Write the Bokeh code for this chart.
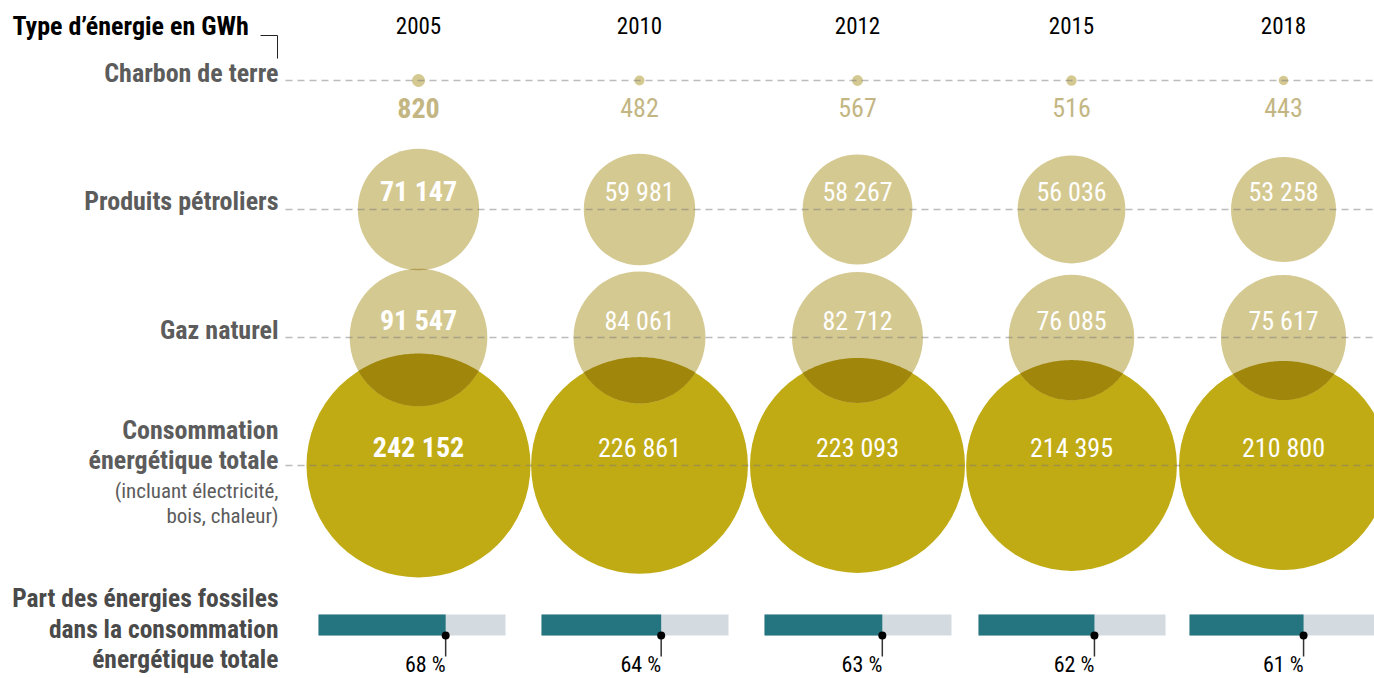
import numpy as np
from bokeh.plotting import figure
from bokeh.models import Range1d
from bokeh.core.properties import value
from bokeh.embed import file_html
from bokeh.resources import INLINE

# ---------------- data ----------------
years = ["2005", "2010", "2012", "2015", "2018"]
charbon = [820, 482, 567, 516, 443]
petrole = [71147, 59981, 58267, 56036, 53258]
gaz = [91547, 84061, 82712, 76085, 75617]
total = [242152, 226861, 223093, 214395, 210800]
part_fossile = [68, 64, 63, 62, 61]

row_labels = ["Charbon de terre", "Produits pétroliers", "Gaz naturel"]
title = "Type d’énergie en GWh"
total_label = ["Consommation", "énergétique totale"]
total_sub = ["(incluant électricité,", "bois, chaleur)"]
part_label = ["Part des énergies fossiles", "dans la consommation", "énergétique totale"]

# ---------------- layout ----------------
FONT = "Roboto Condensed, Liberation Sans Narrow, DejaVu Sans Condensed, sans-serif"
LIGHT = "#d5c992"
DARK = "#c0ab14"
TEAL = "#24757f"
GREYBAR = "#d3dbe1"
LABEL_GREY = "#5c5c5c"

col_x = np.array([418, 639, 857, 1071, 1283], dtype=float)
row_y = {"charbon": 80, "petrole": 209, "gaz": 337, "total": 465}
R_MAX = 112.0
bar_x0 = np.array([318, 541, 764, 978, 1189], dtype=float)
bar_w = 187.0
bar_top, bar_bot = 614, 635


def radius(v):
    return R_MAX * np.sqrt(np.asarray(v, dtype=float) / max(total))


def fmt(v):
    return f"{v:,}".replace(",", " ")


def hex2rgb(h):
    h = h.lstrip("#")
    return np.array([int(h[i:i + 2], 16) for i in (0, 2, 4)], dtype=float)


def multiply(c1, c2):
    c = hex2rgb(c1) * hex2rgb(c2) / 255.0
    return "#" + "".join(f"{int(round(x)):02x}" for x in c)


def lens(x, ya, ra, yb, rb, n=60):
    d = abs(yb - ya)
    if d >= ra + rb:
        return None
    a = (d * d + ra * ra - rb * rb) / (2 * d)
    h = np.sqrt(max(ra * ra - a * a, 0))
    alpha = np.arctan2(h, a)
    beta = np.arctan2(h, d - a)
    th0 = np.arctan2(yb - ya, 0.0)
    t1 = np.linspace(th0 - alpha, th0 + alpha, n)
    t2 = np.linspace(th0 + np.pi - beta, th0 + np.pi + beta, n)
    xs = np.concatenate([x + ra * np.cos(t1), x + rb * np.cos(t2)])
    ys = np.concatenate([ya + ra * np.sin(t1), yb + rb * np.sin(t2)])
    return xs, ys


p = figure(width=1374, height=678, output_backend="svg", toolbar_location=None,
           x_range=Range1d(0, 1374), y_range=Range1d(678, 0),
           min_border=0, outline_line_color=None)
p.axis.visible = False
p.grid.visible = False
p.background_fill_color = "white"
p.border_fill_color = "white"

# circles
r_c, r_p, r_g, r_t = radius(charbon), radius(petrole), radius(gaz), radius(total)
p.circle(col_x, [row_y["total"]] * 5, radius=r_t, fill_color=DARK, line_color=None)
p.circle(col_x, [row_y["gaz"]] * 5, radius=r_g, fill_color=LIGHT, line_color=None)
p.circle(col_x, [row_y["petrole"]] * 5, radius=r_p, fill_color=LIGHT, line_color=None)
p.circle(col_x, [row_y["charbon"]] * 5, radius=r_c, fill_color=LIGHT, line_color=None)

# overlaps (multiply look)
for i in range(5):
    L = lens(col_x[i], row_y["gaz"], r_g[i], row_y["total"], r_t[i])
    if L is not None:
        p.patch(L[0], L[1], fill_color=multiply(LIGHT, DARK), line_color=None)
    L = lens(col_x[i], row_y["petrole"], r_p[i], row_y["gaz"], r_g[i])
    if L is not None:
        p.patch(L[0], L[1], fill_color=multiply(LIGHT, LIGHT), line_color=None)

# dashed guide lines
ys = [row_y["charbon"], row_y["petrole"], row_y["gaz"], row_y["total"]]
p.segment(x0=[285] * 4, y0=ys, x1=[1374] * 4, y1=ys, line_color="#7a7a7a",
          line_alpha=0.5, line_width=1.5, line_dash="7 5")

# title & bracket
p.text([12], [25], text=[title], text_font=value(FONT), text_font_size="26px",
       text_font_style="bold", text_color="black", text_baseline="middle", text_align="left")
p.line([260, 277, 277], [35, 35, 58], line_color="#222222", line_width=1)

# years
p.text(col_x, [25] * 5, text=years, text_font=value(FONT), text_font_size="23px",
       text_color="black", text_baseline="middle", text_align="center")

# row labels
for lab, y in zip(row_labels, [72, 200, 329]):
    p.text([278], [y], text=[lab], text_font=value(FONT), text_font_size="26px",
           text_font_style="bold", text_color=LABEL_GREY, text_baseline="middle", text_align="right")
for lab, y in zip(total_label, [429, 459]):
    p.text([278], [y], text=[lab], text_font=value(FONT), text_font_size="26px",
           text_font_style="bold", text_color=LABEL_GREY, text_baseline="middle", text_align="right")
for lab, y in zip(total_sub, [490, 515]):
    p.text([278], [y], text=[lab], text_font=value(FONT), text_font_size="21px",
           text_color=LABEL_GREY, text_baseline="middle", text_align="right")
for lab, y in zip(part_label, [597, 628, 658]):
    p.text([278], [y], text=[lab], text_font=value(FONT), text_font_size="25.5px",
           text_font_style="bold", text_color="#4a4a4a", text_baseline="middle", text_align="right")

# values
def values_row(vals, y, color):
    p.text([col_x[0]], [y], text=[fmt(vals[0])], text_font=value(FONT), text_font_size="28px",
           text_font_style="bold", text_color=color, text_baseline="middle", text_align="center")
    p.text(col_x[1:], [y] * 4, text=[fmt(v) for v in vals[1:]], text_font=value(FONT),
           text_font_size="26px", text_color=color, text_baseline="middle", text_align="center")

values_row(charbon, 107, "#c3b683")
values_row(petrole, 191, "white")
values_row(gaz, 320, "white")
values_row(total, 447, "white")

# bars
share = np.array(part_fossile, dtype=float) / 100.0
p.quad(left=bar_x0, right=bar_x0 + bar_w, top=[bar_top] * 5, bottom=[bar_bot] * 5,
       fill_color=GREYBAR, line_color=None)
mx = bar_x0 + bar_w * share
p.quad(left=bar_x0, right=mx, top=[bar_top] * 5, bottom=[bar_bot] * 5,
       fill_color=TEAL, line_color=None)
p.segment(x0=mx, y0=[bar_bot] * 5, x1=mx, y1=[656] * 5, line_color="#333333", line_width=1.5)
p.scatter(mx, [bar_bot] * 5, size=8, fill_color="black", line_color=None)
p.text(mx, [664] * 5, text=[f"{v} %" for v in part_fossile], text_font=value(FONT),
       text_font_size="22px", text_color="black", text_baseline="middle", text_align="right")

open("out.html", "w").write(file_html(p, INLINE))
